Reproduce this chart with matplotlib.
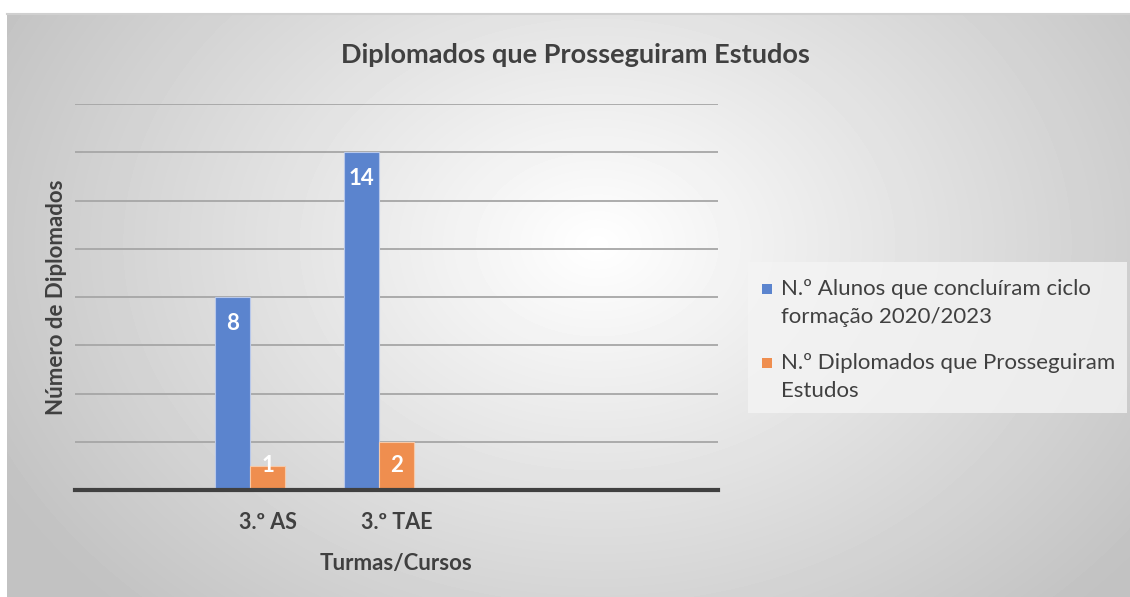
import numpy as np
import matplotlib.pyplot as plt
from matplotlib.patches import Rectangle

plt.rcParams['font.family'] = ['Lato', 'DejaVu Sans']

# data
categories = ["", "3.º AS", "3.º TAE", "", ""]
concluiram = [0, 8, 14, 0, 0]
prosseguiram = [0, 1, 2, 0, 0]
series_names = ["N.º Alunos que concluíram ciclo\nformação 2020/2023",
                "N.º Diplomados que Prosseguiram\nEstudos"]
colors = ["#5B84CE", "#EF8E4F"]

W, H = 1130, 597
fig = plt.figure(figsize=(W / 100, H / 100), dpi=100)
fig.patch.set_facecolor("white")

# radial gradient background of the chart frame
bg = fig.add_axes([7 / W, 0, 1 - 7 / W, 1 - 14 / H], zorder=0)
yy, xx = np.mgrid[0:583, 0:1123]
d = np.sqrt(((xx - 590) / 620.0) ** 2 + ((yy - 230) / 470.0) ** 2)
gray = np.clip(255 - 56 * d, 194, 255) / 255.0
bg.imshow(gray, cmap="gray", vmin=0, vmax=1, aspect="auto",
          extent=[0, 1, 0, 1], interpolation="bilinear")
bg.axis("off")
fig.add_artist(plt.Line2D([7 / W, 1], [1 - 14 / H, 1 - 14 / H],
                          color="#d0d0d0", lw=1.5))

ax = fig.add_axes([75 / W, 1 - 490 / H, 643 / W, 386 / H], zorder=2)
ax.set_facecolor("none")

x = np.arange(len(categories))
w = 0.272
b1 = ax.bar(x - w, concluiram, w, color=colors[0], edgecolor="#b8c8ea",
            linewidth=0.8, zorder=3)
b2 = ax.bar(x, prosseguiram, w, color=colors[1], edgecolor="#f6c9a9",
            linewidth=0.8, zorder=3)

for bars, vals in ((b1, concluiram), (b2, prosseguiram)):
    for r, v in zip(bars, vals):
        if v > 0:
            ax.text(r.get_x() + r.get_width() / 2, max(v - 1.1, 1.0), str(v),
                    ha="center", va="center", color="white",
                    fontsize=16, fontweight="bold", zorder=4)

ax.set_xlim(-0.5, len(categories) - 0.5)
ax.set_ylim(0, 16)
ax.set_yticks(np.arange(2, 17, 2))
ax.yaxis.grid(True, color="#a6a6a6", lw=1.3)
ax.set_axisbelow(True)
ax.tick_params(axis="y", left=False, labelleft=False)
ax.tick_params(axis="x", bottom=False, pad=12)
ax.set_xticks(x)
ax.set_xticklabels(categories, fontsize=15.5, fontweight="bold", color="#404040")
for s in ("top", "right", "left"):
    ax.spines[s].set_visible(False)
ax.spines["bottom"].set_color("#404040")
ax.spines["bottom"].set_linewidth(3)
ax.spines["bottom"].set_zorder(5)

ax.set_xlabel("Turmas/Cursos", fontsize=16, fontweight="bold",
              color="#404040", labelpad=15)
ax.set_ylabel("Número de Diplomados", fontsize=16, fontweight="bold",
              color="#404040", labelpad=6)

fig.text(575 / W, 1 - 55 / H, "Diplomados que Prosseguiram Estudos",
         ha="center", va="center", fontsize=19.5, fontweight="bold",
         color="#404040")

# legend
fig.add_artist(Rectangle((748 / W, 1 - 413 / H), 379 / W, 151 / H,
                         transform=fig.transFigure, facecolor="#f4f4f4",
                         edgecolor="none", alpha=0.8, zorder=1))
for i, (name, c) in enumerate(zip(series_names, colors)):
    ty = 289 + i * 74
    fig.add_artist(Rectangle((762 / W, 1 - (ty + 5) / H), 10 / W, 10 / H,
                             transform=fig.transFigure, facecolor=c,
                             edgecolor="none", zorder=3))
    fig.text(781 / W, 1 - (ty - 10) / H, name, ha="left", va="top",
             fontsize=16, color="#404040", linespacing=1.5, zorder=3)

fig.savefig("out.png", dpi=100)
